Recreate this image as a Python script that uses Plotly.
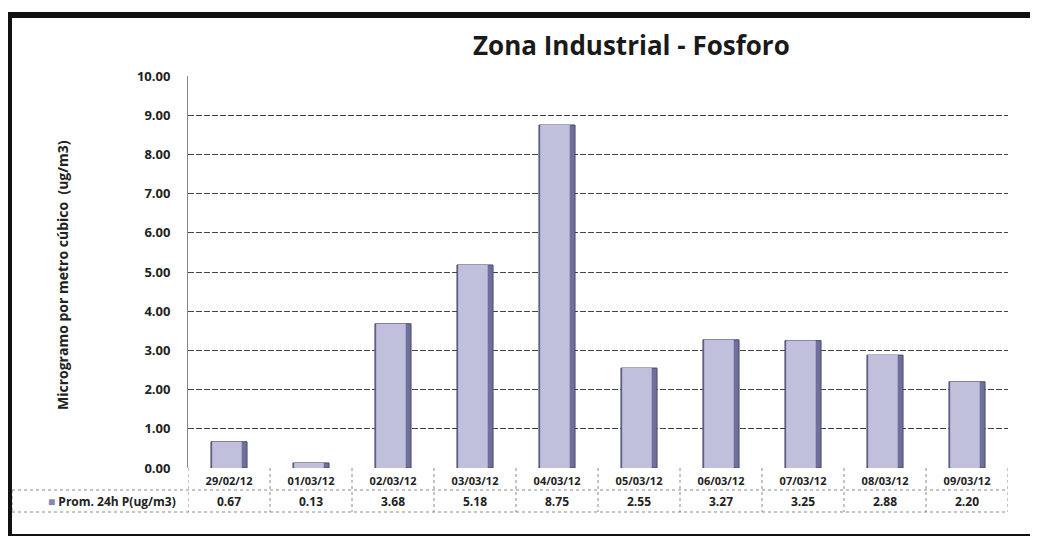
import plotly.graph_objects as go

categories = ["29/02/12", "01/03/12", "02/03/12", "03/03/12", "04/03/12",
              "05/03/12", "06/03/12", "07/03/12", "08/03/12", "09/03/12"]
values = [0.67, 0.13, 3.68, 5.18, 8.75, 2.55, 3.27, 3.25, 2.88, 2.20]
value_labels = ["0.67", "0.13", "3.68", "5.18", "8.75", "2.55", "3.27", "3.25", "2.88", "2.20"]
series_name = "Prom. 24h P(ug/m3)"
title_text = "Zona Industrial - Fosforo"
y_title = "Microgramo por metro cúbico  (ug/m3)"
y_ticks = [0, 1, 2, 3, 4, 5, 6, 7, 8, 9, 10]

# page has an 8px body margin; work in page pixels and shift
OFF = 8
W, H = 1038 - 2 * OFF, 544 - 2 * OFF
PLOT_L, PLOT_R, PLOT_T, PLOT_B = 188, 1008, 76, 468  # page pixels
L = PLOT_L - OFF
T = PLOT_T - OFF
R = W - (PLOT_R - OFF)
B = H - (PLOT_B - OFF)
pw = PLOT_R - PLOT_L
ph = PLOT_B - PLOT_T

def px_y(py):
    return (PLOT_B - py) / ph

def px_x(px):
    return (px - PLOT_L) / pw

FONT = "Open Sans"

fig = go.Figure()
# darker cylinder body (shadow side)
fig.add_trace(go.Bar(
    x=categories, y=values, name=series_name,
    width=0.44, offset=-0.22,
    marker=dict(color="#6f6f9c", line=dict(color="#4a4a6e", width=1)),
    showlegend=False, hoverinfo="skip"))
# lighter highlight
fig.add_trace(go.Bar(
    x=categories, y=values, name=series_name,
    width=0.36, offset=-0.205,
    marker=dict(color="#c0c0dc", line=dict(width=0)),
    showlegend=False))

shapes = []
grid = dict(color="#8a8a8a", width=1, dash="dot")
for py in (490, 512):
    shapes.append(dict(type="line", xref="paper", yref="paper",
                       x0=px_x(12), x1=px_x(1008), y0=px_y(py), y1=px_y(py),
                       line=grid))
n = len(categories)
for i in range(n + 1):
    shapes.append(dict(type="line", xref="x", yref="paper",
                       x0=i - 0.5, x1=i - 0.5, y0=px_y(468), y1=px_y(512),
                       line=grid))
shapes.append(dict(type="line", xref="paper", yref="paper",
                   x0=px_x(12), x1=px_x(12), y0=px_y(490), y1=px_y(512),
                   line=grid))
# outer black frame
shapes.append(dict(type="rect", xref="paper", yref="paper",
                   x0=px_x(9), x1=px_x(1060), y0=px_y(537), y1=px_y(15),
                   line=dict(color="#111111", width=6)))

annotations = []
for c, lab in zip(categories, value_labels):
    annotations.append(dict(x=c, xref="x", y=px_y(501), yref="paper",
                            xanchor="center", yanchor="middle",
                            text=lab, showarrow=False,
                            font=dict(family=FONT, size=12, color="#222222", weight="bold")))
annotations.append(dict(x=px_x(178), xref="paper", y=px_y(501), yref="paper",
                        xanchor="right", yanchor="middle",
                        text="<span style='color:#8585b8'>■</span> " + series_name,
                        showarrow=False,
                        font=dict(family=FONT, size=12, color="#222222", weight="bold")))
annotations.append(dict(x=px_x(62), xref="paper", y=px_y(275), yref="paper",
                        xanchor="center", yanchor="middle",
                        text=y_title, textangle=-90, showarrow=False,
                        font=dict(family=FONT, size=14, color="#222222", weight="bold")))
annotations.append(dict(x=px_x(631), xref="paper", y=px_y(45), yref="paper",
                        xanchor="center", yanchor="middle",
                        text=title_text, showarrow=False,
                        font=dict(family=FONT, size=26, color="#1a1a1a", weight="bold")))

fig.update_layout(
    width=W, height=H,
    margin=dict(l=L, r=R, t=T, b=B, pad=0),
    paper_bgcolor="white", plot_bgcolor="white",
    barmode="overlay",
    shapes=shapes, annotations=annotations,
    font=dict(family=FONT, color="#222222"),
    xaxis=dict(type="category", categoryorder="array", categoryarray=categories,
               showgrid=False, showline=False, ticks="",
               ticklabelstandoff=5,
               tickfont=dict(family=FONT, size=11, color="#222222", weight="bold"),
               range=[-0.5, n - 0.5]),
    yaxis=dict(range=[0, 10], tickvals=y_ticks, tickformat=".2f",
               showgrid=True, gridcolor="#444444", gridwidth=1.3, griddash="6px,2px",
               zeroline=False, showline=True, linecolor="#888888", linewidth=1,
               ticks="outside", ticklen=14, tickcolor="rgba(0,0,0,0)",
               tickfont=dict(family=FONT, size=13, color="#222222", weight="bold")),
)

fig.write_html("out.html")
